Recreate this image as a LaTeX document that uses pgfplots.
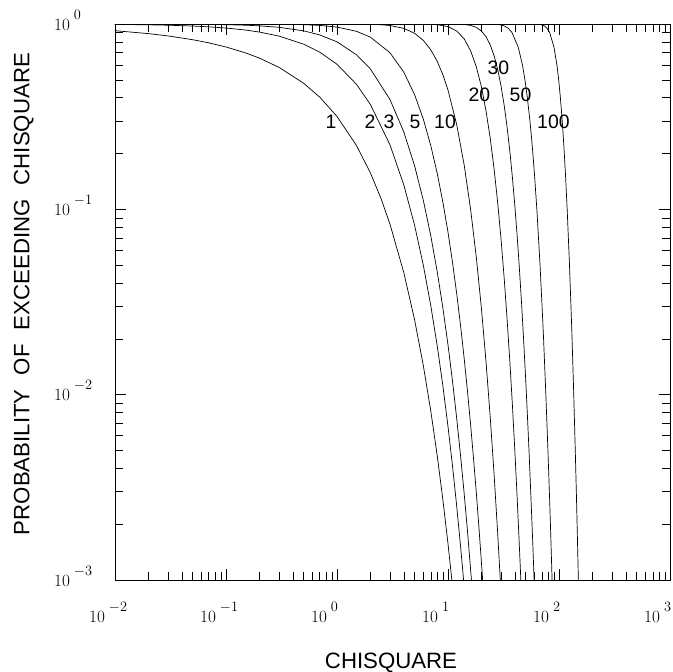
\documentclass[border=0pt]{standalone}
\usepackage{pgfplots}
\pgfplotsset{compat=1.18}
\usepackage{fontspec}
\setmainfont{Liberation Sans}
\newcommand\tlab[1]{\makebox[0pt][r]{$10$}\makebox[0pt][l]{\hspace{4bp}\raisebox{11bp}{\fontsize{14}{16}\selectfont$#1$}}}
\newcommand\clab{\fontsize{19.5}{22}\selectfont}
\pgfplotsset{crv/.style={black, line width=0.7bp, mark=none, solid}}
\begin{document}
\begin{tikzpicture}
\begin{axis}[
  xmode=log, ymode=log,
  scale only axis, width=555bp, height=556bp,
  anchor=south west, at={(0,0)},
  xmin=0.01, xmax=1000, ymin=0.001, ymax=1,
  axis line style={line width=0.8bp},
  tick style={black, line width=0.6bp},
  major tick length=11bp, minor tick length=8bp,
  tick align=inside, tick pos=both,
  xticklabel pos=lower, yticklabel pos=left,
  xtick={0.01,0.1,1,10,100,1000},
  xticklabels={\tlab{-2},\tlab{-1},\tlab{0},\tlab{1},\tlab{2},\tlab{3}},
  ytick={0.001,0.01,0.1,1},
  yticklabels={\tlab{-3},\tlab{-2},\tlab{-1},\tlab{0}},
  minor xtick={0.02,0.03,0.04,0.05,0.06,0.07,0.08,0.09,0.2,0.3,0.4,0.5,0.6,0.7,0.8,0.9,2,3,4,5,6,7,8,9,20,30,40,50,60,70,80,90,200,300,400,500,600,700,800,900},
  minor ytick={0.002,0.003,0.004,0.005,0.006,0.007,0.008,0.009,0.02,0.03,0.04,0.05,0.06,0.07,0.08,0.09,0.2,0.3,0.4,0.5,0.6,0.7,0.8,0.9},
  tick label style={font=\fontsize{18}{20}\selectfont},
  xticklabel style={anchor=base, yshift=-42bp, xshift=-10bp},
  yticklabel style={anchor=base, xshift=-45bp, yshift=-6bp},
]
% nu = 1
\addplot[crv] coordinates {(0.01,0.92034) (0.02,0.88754) (0.03,0.86249) (0.05,0.82307) (0.07,0.79134) (0.1,0.75183) (0.15,0.69854) (0.2,0.65472) (0.3,0.58388) (0.5,0.47950) (0.7,0.40280) (1,0.31731) (1.5,0.22067) (2,0.15730) (2.5,0.11385) (3,0.08326) (4,0.04550) (5,0.02535) (6,0.01431) (7,0.00815) (8,0.00468) (9,0.00270) (10,0.00157) (10.83,0.00100)};
% nu = 2
\addplot[crv] coordinates {(0.01,0.99501) (0.02,0.99005) (0.03,0.98511) (0.05,0.97531) (0.07,0.96561) (0.1,0.95123) (0.15,0.92774) (0.2,0.90484) (0.3,0.86071) (0.5,0.77880) (0.7,0.70469) (1,0.60653) (1.5,0.47237) (2,0.36788) (3,0.22313) (4,0.13534) (5,0.08208) (6,0.04979) (7,0.03020) (8,0.01832) (9,0.01111) (10,0.006738) (11,0.004087) (12,0.002479) (13,0.001503) (13.82,0.001)};
% nu = 3
\addplot[crv] coordinates {(0.01,0.99973) (0.02,0.99925) (0.03,0.99863) (0.05,0.99708) (0.07,0.99518) (0.1,0.99184) (0.15,0.98523) (0.2,0.97759) (0.3,0.96003) (0.5,0.91889) (0.7,0.87322) (1,0.80125) (1.5,0.68227) (2,0.57241) (3,0.39163) (4,0.26146) (5,0.17180) (6,0.11161) (7,0.07190) (8,0.04601) (9,0.02929) (10,0.01857) (11,0.01173) (12,0.00738) (13,0.00464) (14,0.00291) (15,0.00182) (16,0.00113) (16.27,0.00100)};
% nu = 5
\addplot[crv] coordinates {(0.01,1) (0.05,0.99998) (0.1,0.99984) (0.2,0.99912) (0.3,0.99764) (0.5,0.99212) (0.7,0.98299) (1,0.96256) (1.5,0.91307) (2,0.84915) (3,0.69999) (4,0.54942) (5,0.41588) (6,0.30622) (7,0.22064) (8,0.15624) (9,0.10906) (10,0.07524) (11,0.05139) (12,0.03478) (13,0.02338) (14,0.01561) (15,0.01036) (16,0.00684) (17,0.00450) (18,0.00295) (19,0.00192) (20,0.00125) (20.52,0.00100)};
% nu = 10
\addplot[crv] coordinates {(0.01,1) (1,0.99983) (1.5,0.99894) (2,0.99634) (2.5,0.99087) (3,0.98142) (4,0.94735) (5,0.89118) (6,0.81526) (7,0.72544) (8,0.62884) (9,0.53210) (10,0.44049) (12,0.28506) (14,0.17299) (16,0.09963) (18,0.05496) (20,0.02925) (22,0.01510) (24,0.00760) (26,0.00374) (28,0.001805) (29.59,0.001)};
% nu = 20
\addplot[crv] coordinates {(0.01,1) (4,0.99995) (6,0.99890) (8,0.99187) (10,0.96817) (12,0.9161) (14,0.8305) (16,0.7166) (18,0.5874) (20,0.4579) (22,0.3405) (24,0.2424) (26,0.1658) (28,0.1094) (30,0.0699) (32,0.0433) (34,0.0261) (36,0.0154) (38,0.0089) (40,0.0050) (42,0.00277) (44,0.00150) (45.31,0.001)};
% nu = 30
\addplot[crv] coordinates {(0.01,1) (8,0.99998) (10,0.99977) (12,0.9986) (14,0.9943) (16,0.9827) (18,0.9585) (20,0.9165) (22,0.8540) (24,0.7720) (26,0.6751) (28,0.5704) (30,0.4657) (32,0.3675) (34,0.2808) (36,0.2081) (38,0.1497) (40,0.1049) (42,0.0716) (44,0.0477) (46,0.0311) (48,0.0198) (50,0.0124) (52,0.0076) (54,0.0046) (56,0.0027) (58,0.0016) (59.70,0.001)};
% nu = 50
\addplot[crv] coordinates {(0.01,1) (18.0,0.99999) (20.9,0.9999) (24.67,0.999) (27.99,0.995) (29.71,0.99) (32.36,0.975) (34.76,0.95) (37.69,0.90) (42.94,0.75) (46.87,0.6) (49.33,0.50) (51.89,0.4) (54.72,0.3) (56.33,0.25) (58.16,0.2) (60.34,0.15) (63.17,0.10) (67.50,0.05) (71.42,0.025) (72.62,0.02) (76.15,0.01) (79.49,0.005) (81.89,0.003) (83.71,0.002) (86.66,0.001)};
% nu = 100
\addplot[crv] coordinates {(0.01,1) (50.6,0.99999) (55.6,0.9999) (61.92,0.999) (67.33,0.995) (70.06,0.99) (74.22,0.975) (77.93,0.95) (82.36,0.90) (90.13,0.75) (95.81,0.6) (99.33,0.5) (102.94,0.4) (106.90,0.3) (109.14,0.25) (111.66,0.2) (114.65,0.15) (118.50,0.10) (124.34,0.05) (129.56,0.025) (131.15,0.02) (135.81,0.01) (140.17,0.005) (143.26,0.003) (145.62,0.002) (149.45,0.001)};
\node[font=\clab] at (axis cs:0.883,0.298) {1};
\node[font=\clab] at (axis cs:1.98,0.298) {2};
\node[font=\clab] at (axis cs:2.94,0.298) {3};
\node[font=\clab] at (axis cs:5.05,0.298) {5};
\node[font=\clab] at (axis cs:9.4,0.298) {10};
\node[font=\clab] at (axis cs:19.2,0.414) {20};
\node[font=\clab] at (axis cs:28.5,0.582) {30};
\node[font=\clab] at (axis cs:45.0,0.414) {50};
\node[font=\clab] at (axis cs:89.1,0.298) {100};
\end{axis}
\node[anchor=base, font=\fontsize{22.3}{26}\selectfont] at (276bp,-88bp) {CHISQUARE};
\node[anchor=base, rotate=90, font=\fontsize{22.3}{26}\selectfont] at (-85.5bp,286bp) {PROBABILITY\hspace{8bp} OF\hspace{8bp} EXCEEDING\hspace{8bp} CHISQUARE};
\pgfresetboundingbox
\path[use as bounding box] (-115bp,-92bp) rectangle (558bp,580bp);
\end{tikzpicture}
\end{document}
